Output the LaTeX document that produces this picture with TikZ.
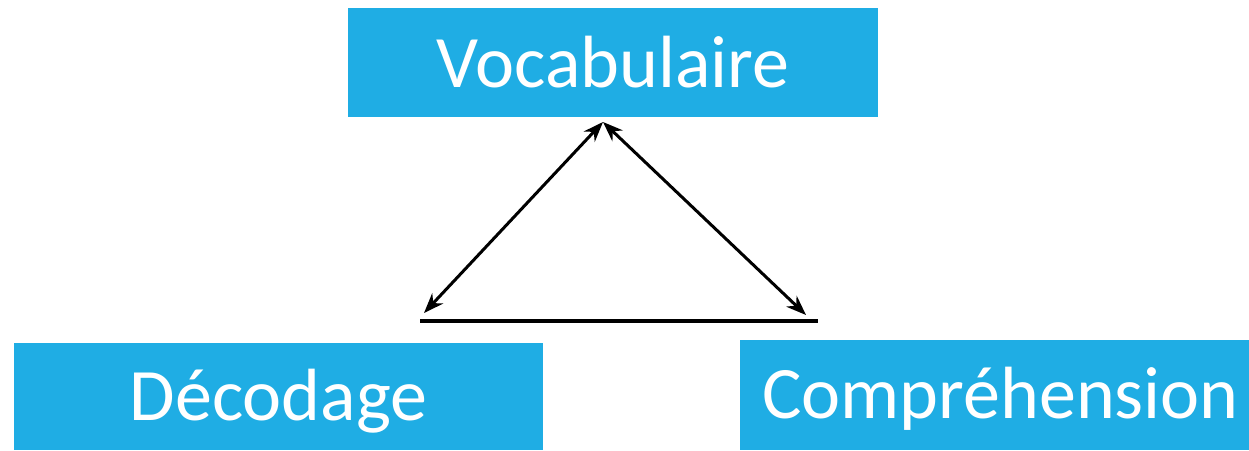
\documentclass[tikz,border=0pt]{standalone}
\usepackage{fontspec}
\setmainfont{Carlito}
\usetikzlibrary{arrows.meta}
\definecolor{boxblue}{RGB}{31,173,228}
\tikzset{
  bluebox/.style={fill=boxblue, draw=none, text=white, inner sep=0pt,
    font=\fontsize{74}{88}\selectfont},
  dblarrow/.style={line width=3pt, {Stealth[length=20pt,width=15pt]}-{Stealth[length=20pt,width=15pt]}},
  baseline/.style={line width=4pt}
}
\begin{document}
\begin{tikzpicture}[x=1pt,y=-1pt]
\useasboundingbox (0,0) rectangle (1249,450);
\node[bluebox, minimum width=530pt, minimum height=109pt] (voc) at (613,62.5) {Vocabulaire};
\node[bluebox, minimum width=529pt, minimum height=107pt] (dec) at (278.5,396.5) {\raisebox{-5pt}[\height][\depth]{Décodage}};
\node[bluebox, minimum width=509pt, minimum height=110pt] (comp) at (994.5,395) {\hspace{12pt}\raisebox{-4pt}[\height][\depth]{Compréhension}};
\coordinate (apex) at (603,122);
\coordinate (left) at (424,313);
\coordinate (right) at (806,315);
\coordinate (bl) at (420,321);
\coordinate (br) at (818,321);
\draw[dblarrow] (apex) -- (left);
\draw[dblarrow] (apex) -- (right);
\draw[baseline] (bl) -- (br);
\end{tikzpicture}
\end{document}
